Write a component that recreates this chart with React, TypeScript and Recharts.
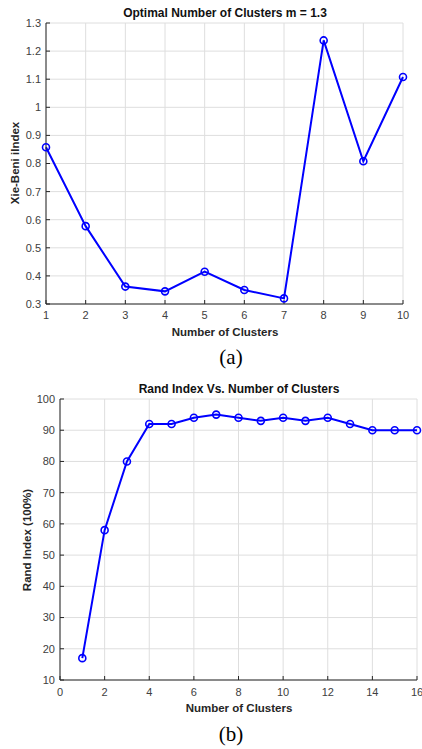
import {
  LineChart,
  Line,
  XAxis,
  YAxis,
  CartesianGrid,
} from 'recharts';

const clustersA = [1, 2, 3, 4, 5, 6, 7, 8, 9, 10];
const xieBeni = [0.858, 0.577, 0.362, 0.345, 0.415, 0.35, 0.32, 1.238, 0.808, 1.108];
const yTicksA = [0.3, 0.4, 0.5, 0.6, 0.7, 0.8, 0.9, 1, 1.1, 1.2, 1.3];

const clustersB = [1, 2, 3, 4, 5, 6, 7, 8, 9, 10, 11, 12, 13, 14, 15, 16];
const randIndex = [17, 58, 80, 92, 92, 94, 95, 94, 93, 94, 93, 94, 92, 90, 90, 90];
const xTicksB = [0, 2, 4, 6, 8, 10, 12, 14, 16];
const yTicksB = [10, 20, 30, 40, 50, 60, 70, 80, 90, 100];

const dataA = clustersA.map((k, i) => ({ k, v: xieBeni[i] }));
const dataB = clustersB.map((k, i) => ({ k, v: randIndex[i] }));

const font = '"Liberation Sans", Arial, sans-serif';
const axisColor = '#262626';
const tickStyle = { fontSize: 11, fill: '#404040', fontFamily: font };

const abs = (x: number, y: number, extra: React.CSSProperties = {}): React.CSSProperties => ({
  position: 'absolute',
  left: x,
  top: y,
  transform: 'translate(-50%, -50%)',
  whiteSpace: 'nowrap',
  fontFamily: font,
  ...extra,
});

const titleStyle = { fontSize: 12, fontWeight: 700, color: '#111' };
const labelStyle = { fontSize: 11.5, fontWeight: 700, color: axisColor };
const captionStyle = { fontFamily: '"Liberation Serif", "Times New Roman", serif', fontSize: 21, color: '#000' };

function MarkerDot(props: any) {
  const { cx, cy } = props;
  if (cx == null || cy == null) return null;
  return <circle cx={cx} cy={cy} r={3.5} fill="none" stroke="#0000ff" strokeWidth={1.6} />;
}

export default function App() {
  return (
    <div style={{ position: 'absolute', left: 0, top: 0, width: 422, height: 749, background: '#fff', overflow: 'hidden' }}>
      <div style={abs(225, 13, titleStyle)}>Optimal Number of Clusters m = 1.3</div>
      <div style={{ position: 'absolute', left: 0, top: 0 }}>
        <LineChart width={422} height={340} data={dataA} margin={{ top: 23, right: 19, bottom: 6, left: 0 }}>
          <CartesianGrid stroke="#dedede" strokeWidth={1} />
          <XAxis
            dataKey="k"
            type="number"
            domain={[1, 10]}
            ticks={clustersA}
            height={30}
            stroke={axisColor}
            tickSize={-4}
            tickMargin={11}
            tick={tickStyle}
            interval={0}
          />
          <XAxis
            xAxisId="top"
            dataKey="k"
            type="number"
            orientation="top"
            domain={[1, 10]}
            ticks={clustersA}
            height={0}
            stroke={axisColor}
            tickSize={-4}
            tick={false}
          />
          <YAxis
            type="number"
            domain={[0.3, 1.3]}
            ticks={yTicksA}
            width={46}
            stroke={axisColor}
            tickSize={-4}
            tickMargin={9}
            tick={tickStyle}
            interval={0}
            allowDataOverflow
          />
          <YAxis
            yAxisId="right"
            type="number"
            orientation="right"
            domain={[0.3, 1.3]}
            ticks={yTicksA}
            width={0}
            stroke={axisColor}
            tickSize={-4}
            tick={false}
          />
          <Line
            dataKey="v"
            stroke="#0000ff"
            strokeWidth={2}
            dot={<MarkerDot />}
            activeDot={false}
            isAnimationActive={false}
          />
        </LineChart>
      </div>
      <div style={abs(15, 163, { ...labelStyle, transform: 'translate(-50%, -50%) rotate(-90deg)' })}>Xie-Beni iIndex</div>
      <div style={abs(225, 332, labelStyle)}>Number of Clusters</div>
      <div style={abs(231, 357, captionStyle)}>(a)</div>

      <div style={abs(239, 389, titleStyle)}>Rand Index Vs. Number of Clusters</div>
      <div style={{ position: 'absolute', left: 0, top: 370 }}>
        <LineChart width={422} height={340} data={dataB} margin={{ top: 29, right: 5, bottom: 0, left: 0 }}>
          <CartesianGrid stroke="#dedede" strokeWidth={1} />
          <XAxis
            dataKey="k"
            type="number"
            domain={[0, 16]}
            ticks={xTicksB}
            height={30}
            stroke={axisColor}
            tickSize={-4}
            tickMargin={12}
            tick={tickStyle}
            interval={0}
          />
          <XAxis
            xAxisId="top"
            dataKey="k"
            type="number"
            orientation="top"
            domain={[0, 16]}
            ticks={xTicksB}
            height={0}
            stroke={axisColor}
            tickSize={-4}
            tick={false}
          />
          <YAxis
            type="number"
            domain={[10, 100]}
            ticks={yTicksB}
            width={60}
            stroke={axisColor}
            tickSize={-4}
            tickMargin={9}
            tick={tickStyle}
            interval={0}
          />
          <YAxis
            yAxisId="right"
            type="number"
            orientation="right"
            domain={[10, 100]}
            ticks={yTicksB}
            width={0}
            stroke={axisColor}
            tickSize={-4}
            tick={false}
          />
          <Line
            dataKey="v"
            stroke="#0000ff"
            strokeWidth={2}
            dot={<MarkerDot />}
            activeDot={false}
            isAnimationActive={false}
          />
        </LineChart>
      </div>
      <div style={abs(27, 540, { ...labelStyle, transform: 'translate(-50%, -50%) rotate(-90deg)' })}>Rand Index (100%)</div>
      <div style={abs(239, 708, labelStyle)}>Number of Clusters</div>
      <div style={abs(231, 734, captionStyle)}>(b)</div>
    </div>
  );
}
